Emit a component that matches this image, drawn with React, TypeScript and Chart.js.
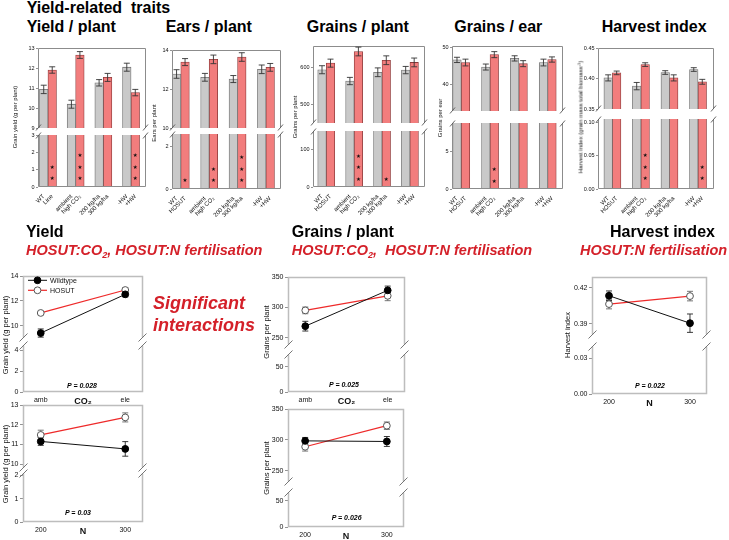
import React, { useEffect, useRef } from 'react';
import { Chart, registerables } from 'chart.js';

Chart.register(...registerables);

const FONT = "'Liberation Sans', Arial, Helvetica, sans-serif";
Chart.defaults.font.family = FONT;

// ================= DATA: top bar panels =================
const barLabelsYield = ['WT', 'Line', 'ambient', 'high CO₂', '200 kg/ha', '300 kg/ha', '-HW', '+HW'];
const barLabels = ['WT', 'HOSUT', 'ambient', 'high CO₂', '200 kg/ha', '300 kg/ha', '-HW', '+HW'];

const yieldGrey = [10.93, 10.19, 11.26, 12.04];
const yieldGreyErr = [0.21, 0.2, 0.16, 0.2];
const yieldRed = [11.9, 12.65, 11.53, 10.77];
const yieldRedErr = [0.16, 0.17, 0.2, 0.16];
const yieldStars = [2, 3, 0, 3];
const yieldTicksUpper = [9, 10, 11, 12, 13];
const yieldTicksLower = [0, 1, 2, 3];

const earsGrey = [12.77, 12.6, 12.51, 13.01];
const earsGreyErr = [0.22, 0.2, 0.18, 0.22];
const earsRed = [13.38, 13.52, 13.64, 13.11];
const earsRedErr = [0.18, 0.22, 0.22, 0.2];
const earsStars = [1, 2, 3, 0];
const earsTicksUpper = [10, 12, 14];
const earsTicksLower = [0, 2];

const grainsGrey = [594, 563, 587, 593];
const grainsGreyErr = [11, 10, 12, 10];
const grainsRed = [612, 644, 620, 614];
const grainsRedErr = [11, 12, 12, 12];
const grainsStars = [0, 3, 1, 0];
const grainsTicksUpper = [500, 600];
const grainsTicksLower = [0, 100];

const gpeGrey = [46.6, 44.7, 47.0, 45.9];
const gpeGreyErr = [0.7, 0.8, 0.7, 0.9];
const gpeRed = [45.9, 48.0, 45.6, 46.7];
const gpeRedErr = [0.9, 0.8, 0.8, 0.7];
const gpeStars = [0, 2, 0, 0];
const gpeTicksUpper = [40, 50];
const gpeTicksLower = [0, 5];

const hiGrey = [0.401, 0.3875, 0.4098, 0.4147];
const hiGreyErr = [0.005, 0.006, 0.003, 0.003];
const hiRed = [0.4092, 0.4228, 0.401, 0.3946];
const hiRedErr = [0.003, 0.003, 0.005, 0.004];
const hiStars = [0, 3, 0, 2];
const hiTicksUpper = [0.35, 0.4, 0.45];
const hiTicksLower = [0, 0.05, 0.1];

// ================= DATA: interaction plots =================
const seriesNames = ['Wildtype', 'HOSUT'];
const co2Levels = ['amb', 'CO₂', 'ele'];
const nLevels = ['200', 'N', '300'];

const yCo2WT = [9.4, 12.52];
const yCo2WTErr = [0.33, 0.2];
const yCo2HO = [11.02, 12.87];
const yCo2HOErr = [0.12, 0.2];
const yCo2TicksUpper = [10, 12, 14];
const yCo2TicksLower = [0, 2, 4];

const yNWT = [11.15, 10.77];
const yNWTErr = [0.2, 0.37];
const yNHO = [11.48, 12.37];
const yNHOErr = [0.24, 0.23];
const yNTicksUpper = [10, 11, 12, 13];
const yNTicksLower = [0, 1, 2];

const gCo2WT = [269, 328];
const gCo2WTErr = [8, 7];
const gCo2HO = [295, 319];
const gCo2HOErr = [5.5, 8];
const gCo2TicksUpper = [250, 300, 350];
const gCo2TicksLower = [0, 50];

const gNWT = [298.5, 297.5];
const gNWTErr = [5.5, 8];
const gNHO = [289, 323];
const gNHOErr = [7, 6];
const gNTicksUpper = [250, 300, 350];
const gNTicksLower = [0, 50];

const hiNWT = [0.4135, 0.3905];
const hiNWTErr = [0.004, 0.0077];
const hiNHO = [0.4065, 0.4132];
const hiNHOErr = [0.004, 0.004];
const hiNTicksUpper = [0.39, 0.42];
const hiNTicksLower = [0, 0.03];

// ================= STYLE =================
const GREY = '#c9c9c9';
const GREY_EDGE = '#6e6e6e';
const RED = '#f27d7d';
const RED_EDGE = '#8c3b3b';
const FRAME_BAR = '#8c8c8c';
const FRAME_LINE = '#bdbdbd';
const TITLE_RED = '#d42029';
const HOSUT_RED = '#ee2a2a';
const BAR_W = 8.5;

// ================= PLUGINS =================
const framePlugin = {
  id: 'frame',
  afterDatasetsDraw(chart: any, _a: any, o: any) {
    if (!o || !o.mode) return;
    const { left, right, top, bottom } = chart.chartArea;
    const ctx = chart.ctx;
    const L = Math.round(left) + 0.5, R = Math.round(right) - 0.5, T = Math.round(top) + 0.5, B = Math.round(bottom) - 0.5;
    ctx.save();
    ctx.strokeStyle = o.color;
    ctx.lineWidth = o.width;
    ctx.beginPath();
    if (o.mode === 'upper') {
      ctx.moveTo(L, B); ctx.lineTo(L, T); ctx.lineTo(R, T); ctx.lineTo(R, B);
    } else {
      ctx.moveTo(L, T); ctx.lineTo(L, B); ctx.lineTo(R, B); ctx.lineTo(R, T);
    }
    ctx.stroke();
    const y = o.mode === 'upper' ? B : T;
    ctx.strokeStyle = o.slashColor;
    ctx.lineWidth = 0.9;
    ctx.beginPath();
    for (const x of [L, R]) {
      ctx.moveTo(x - o.sw / 2, y + o.sh / 2);
      ctx.lineTo(x + o.sw / 2, y - o.sh / 2);
    }
    ctx.stroke();
    ctx.restore();
  },
};

function drawErrors(chart: any, o: any) {
  const ctx = chart.ctx;
  const ys = chart.scales.y;
  chart.data.datasets.forEach((ds: any, di: number) => {
    if (!ds.errors) return;
    const meta = chart.getDatasetMeta(di);
    meta.data.forEach((el: any, i: number) => {
      const v = ds.data[i].y;
      const e = ds.errors[i];
      const x = el.x;
      const y1 = ys.getPixelForValue(v + e);
      const y2 = ys.getPixelForValue(v - e);
      ctx.save();
      ctx.strokeStyle = ds.errColor || '#333';
      ctx.lineWidth = 0.9;
      ctx.beginPath();
      ctx.moveTo(x, y1); ctx.lineTo(x, y2);
      ctx.moveTo(x - o.cap, y1); ctx.lineTo(x + o.cap, y1);
      ctx.moveTo(x - o.cap, y2); ctx.lineTo(x + o.cap, y2);
      ctx.stroke();
      ctx.restore();
    });
  });
}

const errPlugin = {
  id: 'errBars',
  beforeDatasetsDraw(chart: any, _a: any, o: any) {
    if (o && o.cap && o.when === 'before') drawErrors(chart, o);
  },
  afterDatasetsDraw(chart: any, _a: any, o: any) {
    if (o && o.cap && o.when === 'after') drawErrors(chart, o);
  },
};

const starPlugin = {
  id: 'stars',
  afterDatasetsDraw(chart: any, _a: any, o: any) {
    if (!o || !o.counts) return;
    const ctx = chart.ctx;
    const meta = chart.getDatasetMeta(1);
    ctx.save();
    ctx.fillStyle = '#111';
    ctx.font = `${o.size}px 'DejaVu Sans', sans-serif`;
    ctx.textAlign = 'center';
    ctx.textBaseline = 'middle';
    o.counts.forEach((n: number, i: number) => {
      for (let k = 0; k < n; k++) {
        ctx.fillText('★', meta.data[i].x, chart.chartArea.bottom - o.offsets[k]);
      }
    });
    ctx.restore();
  },
};

const legendPlugin = {
  id: 'lineLegend',
  afterDraw(chart: any, _a: any, o: any) {
    if (!o || !o.show) return;
    const ctx = chart.ctx;
    const { left, top } = chart.chartArea;
    chart.data.datasets.forEach((ds: any, i: number) => {
      const y = top + o.y0 + i * o.dy;
      const x0 = left + o.x0;
      ctx.save();
      ctx.strokeStyle = ds.borderColor;
      ctx.lineWidth = ds.borderWidth;
      ctx.beginPath();
      ctx.moveTo(x0, y); ctx.lineTo(x0 + o.len, y);
      ctx.stroke();
      ctx.beginPath();
      ctx.arc(x0 + o.len / 2, y, ds.pointRadius, 0, Math.PI * 2);
      ctx.fillStyle = ds.pointBackgroundColor;
      ctx.fill();
      ctx.strokeStyle = ds.pointBorderColor;
      ctx.lineWidth = 1;
      ctx.stroke();
      ctx.fillStyle = '#111';
      ctx.font = `${o.size}px ${FONT}`;
      ctx.textAlign = 'left';
      ctx.textBaseline = 'middle';
      ctx.fillText(ds.label, x0 + o.len + o.gap, y + 0.5);
      ctx.restore();
    });
  },
};

Chart.register(framePlugin as any, errPlugin as any, starPlugin as any, legendPlugin as any);

// ================= PANEL LAYOUT =================
type Part = { t: number; b: number; min: number; max: number; ticks: number[] };

const barPanels = [
  { l: 38, r: 146, up: { t: 48, b: 128, min: 9, max: 13, ticks: yieldTicksUpper }, lo: { t: 135, b: 187, min: 0, max: 3, ticks: yieldTicksLower }, xr: [-0.36, 3.54], grey: yieldGrey, greyErr: yieldGreyErr, red: yieldRed, redErr: yieldRedErr, stars: yieldStars, labels: barLabelsYield, dec: 0, starOff: [8, 19.5, 31] },
  { l: 172, r: 281, up: { t: 50, b: 128, min: 10, max: 14, ticks: earsTicksUpper }, lo: { t: 134, b: 189, min: 0, max: 2.6, ticks: earsTicksLower }, xr: [-0.31, 3.53], grey: earsGrey, greyErr: earsGreyErr, red: earsRed, redErr: earsRedErr, stars: earsStars, labels: barLabels, dec: 0, starOff: [8, 19.5, 31.5] },
  { l: 313, r: 425, up: { t: 46, b: 123, min: 448, max: 659, ticks: grainsTicksUpper }, lo: { t: 131, b: 187, min: 0, max: 150, ticks: grainsTicksLower }, xr: [-0.475, 3.54], grey: grainsGrey, greyErr: grainsGreyErr, red: grainsRed, redErr: grainsRedErr, stars: grainsStars, labels: barLabels, dec: 0, starOff: [7.5, 19, 30.5] },
  { l: 452, r: 563, up: { t: 46, b: 111, min: 33, max: 50.3, ticks: gpeTicksUpper }, lo: { t: 123, b: 189, min: 0, max: 8.8, ticks: gpeTicksLower }, xr: [-0.32, 3.53], grey: gpeGrey, greyErr: gpeGreyErr, red: gpeRed, redErr: gpeRedErr, stars: gpeStars, labels: barLabels, dec: 0, starOff: [7.6, 19.3, 31] },
  { l: 598, r: 714, up: { t: 48, b: 109, min: 0.35, max: 0.45, ticks: hiTicksUpper }, lo: { t: 119, b: 189, min: 0, max: 0.106, ticks: hiTicksLower }, xr: [-0.505, 3.56], grey: hiGrey, greyErr: hiGreyErr, red: hiRed, redErr: hiRedErr, stars: hiStars, labels: barLabels, dec: 2, starOff: [10, 21.7, 33.4] },
];

const linePanels = [
  { l: 23, r: 143, up: { t: 276, b: 338, min: 9, max: 14, ticks: yCo2TicksUpper }, lo: { t: 345, b: 392, min: 0, max: 4.5, ticks: yCo2TicksLower }, wt: yCo2WT, wtErr: yCo2WTErr, ho: yCo2HO, hoErr: yCo2HOErr, xlabels: co2Levels, dec: 0, legend: true },
  { l: 23, r: 143, up: { t: 405, b: 468, min: 9.8, max: 13, ticks: yNTicksUpper }, lo: { t: 473, b: 522, min: 0, max: 2.1, ticks: yNTicksLower }, wt: yNWT, wtErr: yNWTErr, ho: yNHO, hoErr: yNHOErr, xlabels: nLevels, dec: 0, legend: false },
  { l: 288, r: 405, up: { t: 277, b: 345, min: 238, max: 350, ticks: gCo2TicksUpper }, lo: { t: 354, b: 392, min: 0, max: 75, ticks: gCo2TicksLower }, wt: gCo2WT, wtErr: gCo2WTErr, ho: gCo2HO, hoErr: gCo2HOErr, xlabels: co2Levels, dec: 0, legend: false },
  { l: 288, r: 404, up: { t: 409, b: 482, min: 232, max: 350, ticks: gNTicksUpper }, lo: { t: 492, b: 527, min: 0, max: 67, ticks: gNTicksLower }, wt: gNWT, wtErr: gNWTErr, ho: gNHO, hoErr: gNHOErr, xlabels: nLevels, dec: 0, legend: false },
  { l: 592, r: 707, up: { t: 277, b: 335, min: 0.3806, max: 0.4292, ticks: hiNTicksUpper }, lo: { t: 346, b: 394, min: 0, max: 0.0403, ticks: hiNTicksLower }, wt: hiNWT, wtErr: hiNWTErr, ho: hiNHO, hoErr: hiNHOErr, xlabels: nLevels, dec: 2, legend: false },
];

type Margins = { L: number; T: number; R: number; B: number; xH: number };
const BAR_UP: Margins = { L: 40, T: 8, R: 8, B: 8, xH: 0 };
const BAR_LO: Margins = { L: 40, T: 8, R: 8, B: 52, xH: 46 };
const LINE_UP: Margins = { L: 40, T: 8, R: 8, B: 8, xH: 0 };
const LINE_LO: Margins = { L: 40, T: 8, R: 8, B: 22, xH: 18 };

function fmtTick(v: number, dec: number) {
  return dec ? Number(v).toFixed(dec) : String(v);
}

function yAxis(s: Part, dec: number, m: Margins, size: number, tickLen: number) {
  return {
    type: 'linear',
    min: s.min,
    max: s.max,
    beginAtZero: false,
    afterFit: (sc: any) => { sc.width = m.L; },
    afterBuildTicks: (sc: any) => { sc.ticks = s.ticks.map((v) => ({ value: v })); },
    ticks: { font: { size }, color: '#111', padding: 1.5, callback: (v: any) => fmtTick(v, dec) },
    grid: { drawOnChartArea: false, drawTicks: true, tickLength: tickLen, color: '#777', lineWidth: 0.8 },
    border: { display: false },
  };
}

function barConfig(p: any, part: 'up' | 'lo') {
  const s: Part = p[part];
  const m = part === 'up' ? BAR_UP : BAR_LO;
  const unitPx = (p.r - p.l) / (p.xr[1] - p.xr[0]);
  const d = BAR_W / 2 / unitPx;
  const tickPos: number[] = [];
  p.grey.forEach((_: number, i: number) => { tickPos.push(i - d, i + d); });
  return {
    type: 'bar',
    data: {
      datasets: [
        { label: 'control', data: p.grey.map((v: number, i: number) => ({ x: i, y: v })), backgroundColor: GREY, borderColor: GREY_EDGE, borderWidth: 0.8, errors: part === 'up' ? p.greyErr : null, errColor: '#333', clip: 0, barThickness: BAR_W },
        { label: 'HOSUT', data: p.red.map((v: number, i: number) => ({ x: i, y: v })), backgroundColor: RED, borderColor: RED_EDGE, borderWidth: 0.8, errors: part === 'up' ? p.redErr : null, errColor: '#333', clip: 0, barThickness: BAR_W },
      ],
    },
    options: {
      animation: false,
      responsive: false,
      devicePixelRatio: 1,
      events: [],
      layout: { padding: { left: 0, right: m.R, top: m.T, bottom: m.B - m.xH } },
      plugins: {
        legend: { display: false },
        tooltip: { enabled: false },
        frame: { mode: part === 'up' ? 'upper' : 'lower', color: FRAME_BAR, width: 1, slashColor: '#555', sw: 5, sh: 6 },
        errBars: part === 'up' ? { cap: 3, when: 'after' } : {},
        stars: part === 'lo' ? { counts: p.stars, offsets: p.starOff, size: 5.5 } : {},
      },
      scales: {
        x: part === 'up'
          ? { type: 'linear', min: p.xr[0], max: p.xr[1], offset: false, display: false }
          : {
              type: 'linear', min: p.xr[0], max: p.xr[1], offset: false,
              afterFit: (sc: any) => { sc.height = m.xH; },
              afterBuildTicks: (sc: any) => { sc.ticks = tickPos.map((v) => ({ value: v })); },
              ticks: { autoSkip: false, minRotation: 45, maxRotation: 45, font: { size: 6 }, color: '#111', padding: -2, callback: (_v: any, i: number) => p.labels[i] },
              grid: { display: false },
              border: { display: false },
            },
        y: yAxis(s, p.dec, m, 5.5, 2),
      },
    },
  };
}

function lineConfig(p: any, part: 'up' | 'lo') {
  const s: Part = p[part];
  const m = part === 'up' ? LINE_UP : LINE_LO;
  return {
    type: 'line',
    data: {
      datasets: [
        { label: seriesNames[0], data: p.wt.map((v: number, i: number) => ({ x: i, y: v })), borderColor: '#111', borderWidth: 1, pointRadius: 3.4, pointBackgroundColor: '#000', pointBorderColor: '#000', pointBorderWidth: 1, errors: part === 'up' ? p.wtErr : null, errColor: '#222', clip: part === 'up' ? 6 : 0 },
        { label: seriesNames[1], data: p.ho.map((v: number, i: number) => ({ x: i, y: v })), borderColor: HOSUT_RED, borderWidth: 1.2, pointRadius: 3.4, pointBackgroundColor: '#fff', pointBorderColor: '#555', pointBorderWidth: 1, errors: part === 'up' ? p.hoErr : null, errColor: '#666', clip: part === 'up' ? 6 : 0 },
      ],
    },
    options: {
      animation: false,
      responsive: false,
      devicePixelRatio: 1,
      events: [],
      layout: { padding: { left: 0, right: m.R, top: m.T, bottom: m.B - m.xH } },
      plugins: {
        legend: { display: false },
        tooltip: { enabled: false },
        frame: { mode: part === 'up' ? 'upper' : 'lower', color: FRAME_LINE, width: 1.5, slashColor: '#666', sw: 8, sh: 8 },
        errBars: part === 'up' ? { cap: 3, when: 'before' } : {},
        lineLegend: part === 'up' && p.legend ? { show: true, x0: 5, y0: 4.3, dy: 10, len: 19, gap: 3, size: 7 } : {},
      },
      scales: {
        x: part === 'up'
          ? { type: 'linear', min: -0.21, max: 1.21, display: false }
          : {
              type: 'linear', min: -0.21, max: 1.21,
              afterFit: (sc: any) => { sc.height = m.xH; },
              afterBuildTicks: (sc: any) => { sc.ticks = [0, 0.5, 1].map((v) => ({ value: v })); },
              ticks: {
                autoSkip: false, maxRotation: 0, minRotation: 0, color: '#111', padding: -4,
                font: (c: any) => (c.index === 1 ? { size: 9, weight: 'bold' } : { size: 7 }),
                callback: (_v: any, i: number) => p.xlabels[i],
              },
              grid: { display: false },
              border: { display: false },
            },
        y: yAxis(s, p.dec, m, 7, 3),
      },
    },
  };
}

function SubChart({ l, r, t, b, m, make }: { l: number; r: number; t: number; b: number; m: Margins; make: () => any }) {
  const ref = useRef<HTMLCanvasElement | null>(null);
  const w = Math.round(r - l + m.L + m.R);
  const h = Math.round(b - t + m.T + m.B);
  useEffect(() => {
    const chart = new Chart(ref.current as HTMLCanvasElement, make());
    return () => chart.destroy();
  }, []);
  return (
    <canvas
      ref={ref}
      width={w}
      height={h}
      style={{ position: 'absolute', left: l - m.L, top: t - m.T, width: w, height: h, display: 'block' }}
    />
  );
}

function Txt({ x, y, size, bold, italic, color, middle, children }: any) {
  return (
    <div
      style={{
        position: 'absolute', left: x, top: y - 0.8465 * size, fontFamily: FONT, fontSize: size,
        lineHeight: `${size}px`, fontWeight: bold ? 700 : 400, fontStyle: italic ? 'italic' : 'normal',
        color: color || '#000', whiteSpace: 'pre', transform: middle ? 'translateX(-50%)' : undefined,
      }}
    >
      {children}
    </div>
  );
}

function VTxt({ x, y, size, children }: any) {
  return (
    <div
      style={{
        position: 'absolute', left: x, top: y, fontFamily: FONT, fontSize: size, lineHeight: `${size}px`,
        color: '#111', whiteSpace: 'pre', transform: 'translate(-50%, -50%) rotate(-90deg)',
      }}
    >
      {children}
    </div>
  );
}

const Sub2 = () => <span style={{ fontSize: '0.62em', position: 'relative', top: '0.28em' }}>2</span>;

const barTitles = [
  { x: 15, y: 117, text: 'Grain yield (g per plant)' },
  { x: 153.5, y: 123, text: 'Ears per plant' },
  { x: 295, y: 117, text: 'Grains per plant' },
  { x: 440, y: 118, text: 'Grains per ear' },
];
const lineTitles = [
  { x: 6, y: 335, text: 'Grain yield (g per plant)' },
  { x: 5.5, y: 464, text: 'Grain yield (g per plant)' },
  { x: 267, y: 332, text: 'Grains per plant' },
  { x: 267, y: 468, text: 'Grains per plant' },
  { x: 568, y: 335, text: 'Harvest index' },
];
const pValues = [
  { x: 82, y: 388.3, text: 'P = 0.028' },
  { x: 78, y: 515, text: 'P = 0.03' },
  { x: 344, y: 387.3, text: 'P = 0.025' },
  { x: 346.7, y: 520.3, text: 'P = 0.026' },
  { x: 650, y: 387.6, text: 'P = 0.022' },
];

export default function App() {
  return (
    <div style={{ position: 'absolute', left: 0, top: 0, width: 729, height: 540, background: '#fff', overflow: 'hidden' }}>
      <Txt x={26.7} y={13.3} size={16} bold>{'Yield-related  traits'}</Txt>
      <Txt x={26.7} y={32.3} size={16} bold>{'Yield / plant'}</Txt>
      <Txt x={165.7} y={32.3} size={16} bold>{'Ears / plant'}</Txt>
      <Txt x={306.7} y={32.3} size={16} bold>{'Grains / plant'}</Txt>
      <Txt x={454.3} y={32.3} size={16} bold>{'Grains / ear'}</Txt>
      <Txt x={601.7} y={32.3} size={16} bold>{'Harvest index'}</Txt>

      {barPanels.map((p, i) => (
        <React.Fragment key={'b' + i}>
          <SubChart l={p.l} r={p.r} t={p.up.t} b={p.up.b} m={BAR_UP} make={() => barConfig(p, 'up')} />
          <SubChart l={p.l} r={p.r} t={p.lo.t} b={p.lo.b} m={BAR_LO} make={() => barConfig(p, 'lo')} />
        </React.Fragment>
      ))}
      {barTitles.map((t, i) => (
        <VTxt key={'bt' + i} x={t.x} y={t.y} size={6}>{t.text}</VTxt>
      ))}
      <VTxt x={581} y={117} size={6}>
        {'Harvest index (grain mass total biomass'}
        <span style={{ fontSize: '0.7em', position: 'relative', top: '-0.45em' }}>-1</span>
        {')'}
      </VTxt>

      <Txt x={26} y={238} size={16} bold>{'Yield'}</Txt>
      <Txt x={26} y={255.3} size={14.5} bold italic color={TITLE_RED}>
        {'HOSUT:CO'}<Sub2 />{', HOSUT:N fertilisation'}
      </Txt>
      <Txt x={291.7} y={238} size={16} bold>{'Grains / plant'}</Txt>
      <Txt x={291.7} y={255.3} size={14.5} bold italic color={TITLE_RED}>
        {'HOSUT:CO'}<Sub2 />{',  HOSUT:N fertilisation'}
      </Txt>
      <Txt x={610} y={238} size={16} bold>{'Harvest index'}</Txt>
      <Txt x={580} y={255.3} size={14.5} bold italic color={TITLE_RED}>{'HOSUT:N fertilisation'}</Txt>

      <Txt x={153} y={309} size={18} bold italic color={TITLE_RED}>{'Significant'}</Txt>
      <Txt x={153} y={331.7} size={18} bold italic color={TITLE_RED}>{'interactions'}</Txt>

      {linePanels.map((p, i) => (
        <React.Fragment key={'l' + i}>
          <SubChart l={p.l} r={p.r} t={p.up.t} b={p.up.b} m={LINE_UP} make={() => lineConfig(p, 'up')} />
          <SubChart l={p.l} r={p.r} t={p.lo.t} b={p.lo.b} m={LINE_LO} make={() => lineConfig(p, 'lo')} />
        </React.Fragment>
      ))}
      {lineTitles.map((t, i) => (
        <VTxt key={'lt' + i} x={t.x} y={t.y} size={7.5}>{t.text}</VTxt>
      ))}
      {pValues.map((t, i) => (
        <Txt key={'pv' + i} x={t.x} y={t.y} size={7} bold italic middle>{t.text}</Txt>
      ))}
    </div>
  );
}
